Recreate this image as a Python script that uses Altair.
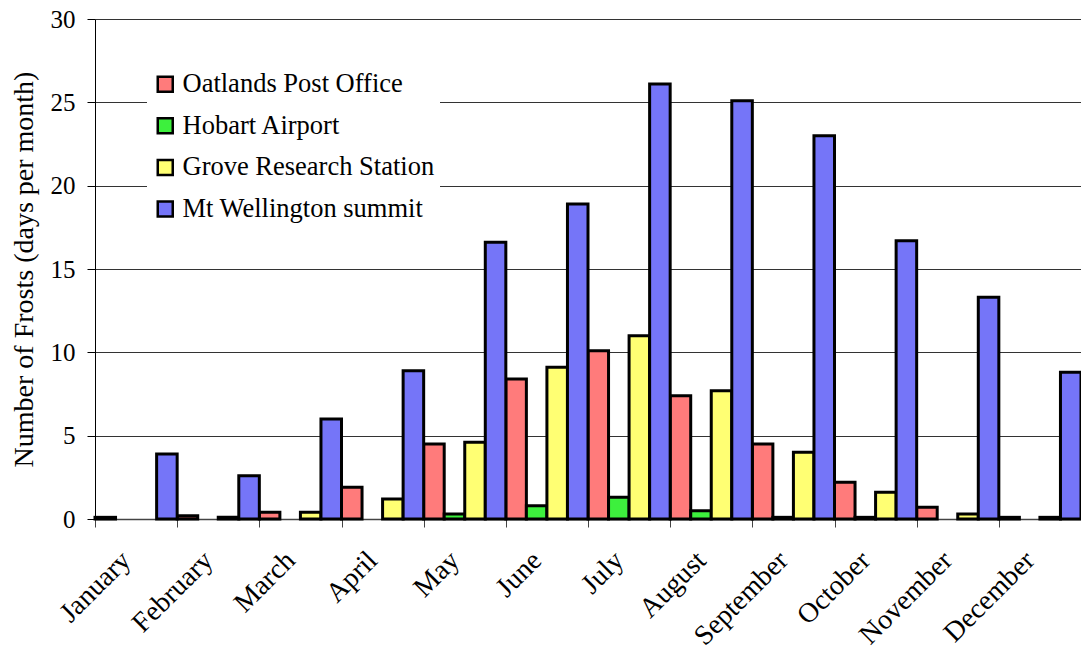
import altair as alt
import pandas as pd

# Monthly mean number of frost days at four Tasmanian stations
months = ["January", "February", "March", "April", "May", "June",
          "July", "August", "September", "October", "November", "December"]
stations = ["Oatlands Post Office", "Hobart Airport",
            "Grove Research Station", "Mt Wellington summit"]

oatlands = [0.1, 0.2, 0.4, 1.9, 4.5, 8.4, 10.1, 7.4, 4.5, 2.2, 0.7, 0.1]
hobart = [0.0, 0.0, 0.0, 0.0, 0.3, 0.8, 1.3, 0.5, 0.1, 0.1, 0.0, 0.0]
grove = [0.0, 0.1, 0.4, 1.2, 4.6, 9.1, 11.0, 7.7, 4.0, 1.6, 0.3, 0.1]
wellington = [3.9, 2.6, 6.0, 8.9, 16.6, 18.9, 26.1, 25.1, 23.0, 16.7, 13.3, 8.8]

colors = ["#FF7B7B", "#3DF03D", "#FFFF73", "#7575F8"]
y_ticks = [0, 5, 10, 15, 20, 25, 30]

FONT = "Liberation Serif"

rows = []
for name, vals in zip(stations, [oatlands, hobart, grove, wellington]):
    for m, v in zip(months, vals):
        rows.append({"month": m, "station": name, "frosts": v})
df = pd.DataFrame(rows)

bars = (
    alt.Chart(df)
    .transform_filter("datum.frosts > 0")
    .mark_bar(stroke="black", strokeWidth=3, opacity=1)
    .encode(
        x=alt.X(
            "month:N",
            sort=months,
            scale=alt.Scale(domain=months, paddingInner=0, paddingOuter=0),
            axis=alt.Axis(
                title=None,
                labelAngle=-45,
                labelAlign="right",
                labelBaseline="middle",
                labelPadding=29,
                labelOffset=-10,
                labelFont=FONT,
                labelFontSize=28,
                labelColor="black",
                labelLimit=400,
                tickBand="extent",
                tickSize=8,
                tickColor="#444",
                domainColor="#444",
                domainWidth=1.5,
                grid=False,
            ),
        ),
        xOffset=alt.XOffset(
            "station:N",
            sort=stations,
            scale=alt.Scale(domain=stations, paddingInner=0, paddingOuter=0),
        ),
        y=alt.Y(
            "frosts:Q",
            scale=alt.Scale(domain=[0, 30], nice=False),
            axis=alt.Axis(
                values=y_ticks,
                title="Number of Frosts (days per month)",
                titleFont=FONT,
                titleFontSize=28,
                titleFontWeight="normal",
                titleColor="black",
                titleX=-63,
                titleY=250,
                titleBaseline="alphabetic",
                labelFont=FONT,
                labelFontSize=25,
                labelColor="black",
                labelPadding=12,
                tickSize=8,
                tickColor="black",
                domainColor="black",
                grid=True,
                gridColor="#333",
                gridWidth=1,
            ),
        ),
        color=alt.Color(
            "station:N",
            sort=stations,
            scale=alt.Scale(domain=stations, range=colors),
            legend=alt.Legend(
                title=None,
                orient="none",
                legendX=52,
                legendY=47,
                fillColor="white",
                padding=5,
                symbolType="square",
                symbolSize=225,
                symbolStrokeColor="black",
                symbolStrokeWidth=2.5,
                symbolOpacity=1,
                labelFont=FONT,
                labelFontSize=26.5,
                labelColor="black",
                labelLimit=400,
                labelOffset=4,
                rowPadding=14.6,
            ),
        ),
    )
)

chart = (
    bars.properties(
        width=986,
        height=500,
        autosize=alt.AutoSizeParams(type="none"),
        padding={"left": 95, "top": 19, "right": 0, "bottom": 131},
        background="white",
    )
    .configure_view(strokeWidth=0)
)

chart.save("out.html", embed_options={"renderer": "svg", "actions": False})
